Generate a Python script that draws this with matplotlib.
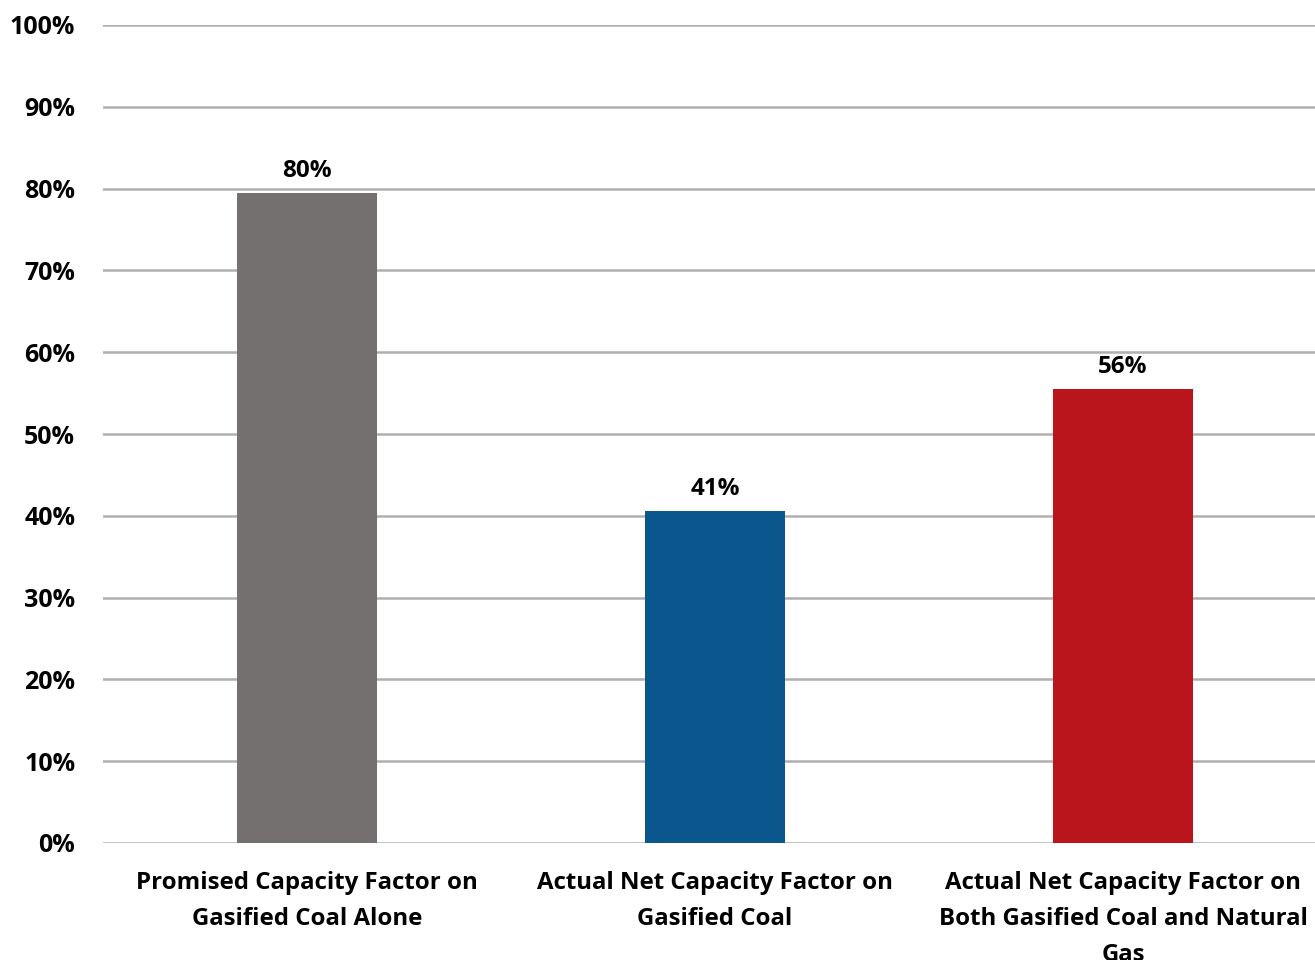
import matplotlib
matplotlib.use("Agg")
import matplotlib.pyplot as plt
from matplotlib.ticker import FuncFormatter

categories = [
    "Promised Capacity Factor on\nGasified Coal Alone",
    "Actual Net Capacity Factor on\nGasified Coal",
    "Actual Net Capacity Factor on\nBoth Gasified Coal and Natural\nGas",
]
values = [79.5, 40.6, 55.5]
value_labels = ["80%", "41%", "56%"]
colors = ["#747070", "#0B568C", "#BA151C"]
yticks = [0, 10, 20, 30, 40, 50, 60, 70, 80, 90, 100]

plt.rcParams['font.family'] = ['Open Sans', 'DejaVu Sans']
plt.rcParams['font.weight'] = 'bold'

fig = plt.figure(figsize=(13.15, 9.6), dpi=100)
ax = fig.add_axes([103/1315, 117/960, 1224/1315, (843-25)/960])

x = list(range(len(categories)))
bars = ax.bar(x, values, width=0.341, color=colors, zorder=3)
for b, lab in zip(bars, value_labels):
    ax.annotate(lab, (b.get_x() + b.get_width()/2, b.get_height()),
                xytext=(0, 7), textcoords="offset points",
                ha="center", va="bottom", fontsize=17.5, fontweight="bold", color="#000000")

ax.set_xlim(-0.5, 2.5)
ax.set_ylim(0, 100)
ax.set_yticks(yticks)
ax.yaxis.set_major_formatter(FuncFormatter(lambda v, p: f"{v:.0f}%"))
ax.set_xticks(x)
ax.set_xticklabels(categories, fontsize=17.3, fontweight="bold", linespacing=1.66)
ax.tick_params(axis='y', length=0, pad=20, labelsize=18)
ax.tick_params(axis='x', length=0, pad=20)
ax.grid(axis='y', color="#B0B0B0", linewidth=1.8, zorder=0)
for s in ax.spines.values():
    s.set_visible(False)

fig.savefig("out.png", dpi=100)
